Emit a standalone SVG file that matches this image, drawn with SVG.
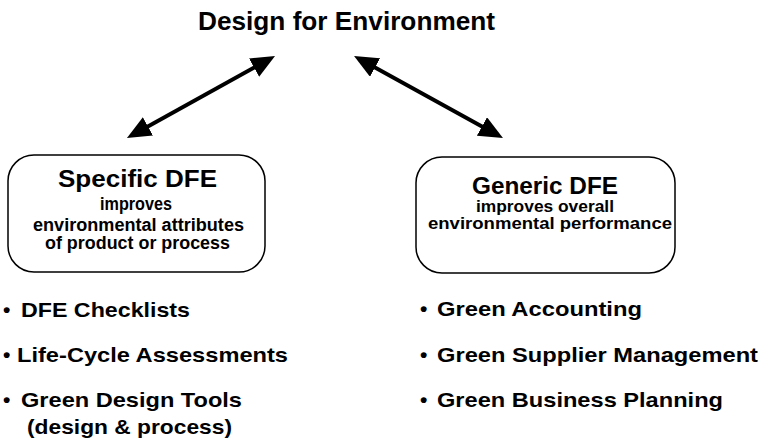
<svg xmlns="http://www.w3.org/2000/svg" width="762" height="442" viewBox="0 0 762 442">
<defs>
<style>
text{font-family:"Liberation Sans",Arial,sans-serif;font-weight:bold;fill:#000}
.title{font-size:25px}
.head{font-size:23px}
.sub{font-size:18px}
.sub2{font-size:17px}
.item{font-size:21px}
.box{fill:#fff;stroke:#000;stroke-width:1.5}
.conn{stroke:#000;stroke-width:4;fill:none}
</style>
<marker id="ah" viewBox="0 0 24 21" refX="14" refY="10.5" markerWidth="24" markerHeight="21" orient="auto-start-reverse" markerUnits="userSpaceOnUse">
<path d="M0,0 L24,10.5 L0,21 z" fill="#000"/>
</marker>
</defs>
<rect width="762" height="442" fill="#fff"/>
<g id="title"><text class="title" x="198" y="30" textLength="297" lengthAdjust="spacingAndGlyphs">Design for Environment</text></g>
<g id="connectors">
<line class="conn" x1="135.7" y1="133.2" x2="266.3" y2="60.8" marker-start="url(#ah)" marker-end="url(#ah)"/>
<line class="conn" x1="362.8" y1="60.8" x2="494.2" y2="133.2" marker-start="url(#ah)" marker-end="url(#ah)"/>
</g>
<g id="specific">
<rect class="box" x="8" y="155" width="257" height="117" rx="26"/>
<text class="head" x="58" y="187" textLength="159" lengthAdjust="spacingAndGlyphs">Specific DFE</text>
<text class="sub" x="100" y="210" textLength="72" lengthAdjust="spacingAndGlyphs">improves</text>
<text class="sub" x="33" y="231" textLength="211" lengthAdjust="spacingAndGlyphs">environmental attributes</text>
<text class="sub" x="45" y="249" textLength="185" lengthAdjust="spacingAndGlyphs">of product or process</text>
</g>
<g id="generic">
<rect class="box" x="416" y="157" width="259" height="116" rx="26"/>
<text class="head" x="472" y="194" textLength="146" lengthAdjust="spacingAndGlyphs">Generic DFE</text>
<text class="sub2" x="476" y="212" textLength="138" lengthAdjust="spacingAndGlyphs">improves overall</text>
<text class="sub2" x="428" y="229" textLength="244" lengthAdjust="spacingAndGlyphs">environmental performance</text>
</g>
<g id="specific-list">
<text class="item" x="3" y="317">•</text>
<text class="item" x="21" y="317" textLength="169" lengthAdjust="spacingAndGlyphs">DFE Checklists</text>
<text class="item" x="3" y="362">•</text>
<text class="item" x="17" y="362" textLength="271" lengthAdjust="spacingAndGlyphs">Life-Cycle Assessments</text>
<text class="item" x="3" y="407">•</text>
<text class="item" x="21" y="407" textLength="221" lengthAdjust="spacingAndGlyphs">Green Design Tools</text>
<text class="item" x="27" y="434" textLength="205" lengthAdjust="spacingAndGlyphs">(design &amp; process)</text>
</g>
<g id="generic-list">
<text class="item" x="420" y="316">•</text>
<text class="item" x="437" y="316" textLength="205" lengthAdjust="spacingAndGlyphs">Green Accounting</text>
<text class="item" x="420" y="362">•</text>
<text class="item" x="437" y="362" textLength="321" lengthAdjust="spacingAndGlyphs">Green Supplier Management</text>
<text class="item" x="420" y="407">•</text>
<text class="item" x="437" y="407" textLength="286" lengthAdjust="spacingAndGlyphs">Green Business Planning</text>
</g>
</svg>
